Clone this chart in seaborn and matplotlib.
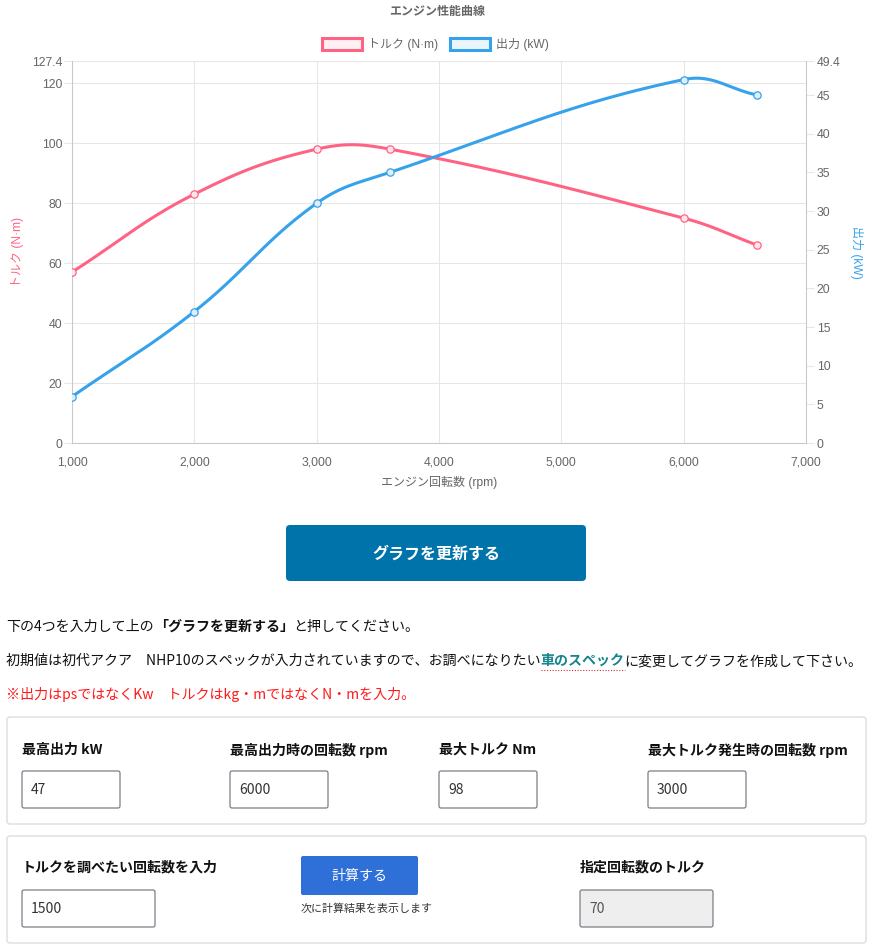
import numpy as np
import matplotlib
matplotlib.use("Agg")
import matplotlib.pyplot as plt
import seaborn as sns
from matplotlib.patches import Rectangle, FancyBboxPatch

# ---------------- data ----------------
rpm = [1000, 2000, 3000, 3600, 6000, 6600]
torque = [57, 83, 98, 98, 75, 66]
power = [6, 17, 31, 35, 47, 45]
series_names = ["トルク (N·m)", "出力 (kW)"]
chart_title = "エンジン性能曲線"
x_label = "エンジン回転数 (rpm)"
x_ticks = [1000, 2000, 3000, 4000, 5000, 6000, 7000]
left_ticks = [0, 20, 40, 60, 80, 100, 120, 127.4]
right_ticks = [0, 5, 10, 15, 20, 25, 30, 35, 40, 45, 49.4]
form_labels = ["最高出力 kW", "最高出力時の回転数 rpm", "最大トルク Nm", "最大トルク発生時の回転数 rpm"]
form_values = ["47", "6000", "98", "3000"]
calc_label = "トルクを調べたい回転数を入力"
calc_value = "1500"
calc_button = "計算する"
calc_note = "次に計算結果を表示します"
result_label = "指定回転数のトルク"
result_value = "70"
update_button = "グラフを更新する"

PINK = "#ff6384"
BLUE = "#36a2eb"
W, H = 875, 949

sns.set_theme(style="white")
plt.rcParams["font.family"] = ["Liberation Sans", "Noto Sans CJK JP"]
JP = ["Noto Sans CJK JP", "DejaVu Sans"]

fig = plt.figure(figsize=(W / 100, H / 100), dpi=100)
fig.patch.set_facecolor("white")

# ---------------- chart ----------------
L, R, T, B = 72, 806, 61, 443
ax = fig.add_axes([L / W, 1 - B / H, (R - L) / W, (B - T) / H])
ax2 = ax.twinx()
ax.set_xlim(1000, 7000)
ax.set_ylim(0, 127.4)
ax2.set_ylim(0, 49.4)

GRID = "#e6e6e6"
AXC = "#c8c8c8"
ax.set_xticks(x_ticks)
ax.set_xticklabels([f"{v:,}" for v in x_ticks])
ax.set_yticks(left_ticks)
ax.set_yticklabels([f"{v:g}" for v in left_ticks])
ax2.set_yticks(right_ticks)
ax2.set_yticklabels([f"{v:g}" for v in right_ticks])
ax.grid(True, color=GRID, lw=0.75)
ax2.grid(False)
for s in ["top", "right"]:
    ax.spines[s].set_visible(False)
for s in ["left", "bottom"]:
    ax.spines[s].set_color(AXC)
    ax.spines[s].set_linewidth(0.75)
for s in ["left", "top", "bottom"]:
    ax2.spines[s].set_visible(False)
ax2.spines["right"].set_color(AXC)
ax2.spines["right"].set_linewidth(0.75)
ax.tick_params(axis="both", length=5.8, width=0.75, color=GRID, labelcolor="#666666",
               labelsize=8.8, direction="out")
ax.tick_params(axis="y", pad=1.2)
ax.tick_params(axis="x", pad=4.2)
ax2.tick_params(axis="y", length=5.8, width=0.75, color=GRID, labelcolor="#666666",
                labelsize=8.8, pad=2.0, direction="out")


def chartjs_curve(axis, xs, ys, t=0.4, n=50):
    pts = axis.transData.transform(np.column_stack([xs, ys]).astype(float))
    m = len(pts)
    cp_prev = np.zeros_like(pts)
    cp_next = np.zeros_like(pts)
    for i in range(m):
        cur = pts[i]
        prev = pts[i - 1] if i > 0 else cur
        nxt = pts[i + 1] if i < m - 1 else cur
        d01 = np.hypot(*(cur - prev))
        d12 = np.hypot(*(nxt - cur))
        tot = d01 + d12
        s01 = d01 / tot if tot else 0
        s12 = d12 / tot if tot else 0
        cp_prev[i] = cur - t * s01 * (nxt - prev)
        cp_next[i] = cur + t * s12 * (nxt - prev)
    u = np.linspace(0, 1, n)[:, None]
    segs = []
    for i in range(m - 1):
        p0, p1, p2, p3 = pts[i], cp_next[i], cp_prev[i + 1], pts[i + 1]
        seg = (1 - u) ** 3 * p0 + 3 * (1 - u) ** 2 * u * p1 + 3 * (1 - u) * u ** 2 * p2 + u ** 3 * p3
        segs.append(seg if i == 0 else seg[1:])
    out = axis.transData.inverted().transform(np.vstack(segs))
    return out[:, 0], out[:, 1]


cx, cy = chartjs_curve(ax, rpm, torque)
ax.plot(cx, cy, color=PINK, lw=2.2, zorder=3, solid_capstyle="round")
sns.scatterplot(x=rpm, y=torque, ax=ax, s=28, color="#ffe6eb", edgecolor=PINK,
                linewidth=0.9, zorder=4, legend=False)
px_, py_ = chartjs_curve(ax2, rpm, power)
ax2.plot(px_, py_, color=BLUE, lw=2.2, zorder=3, solid_capstyle="round")
sns.scatterplot(x=rpm, y=power, ax=ax2, s=28, color="#ddeffc", edgecolor=BLUE,
                linewidth=0.9, zorder=4, legend=False)
ax.set_xlim(1000, 7000)
ax.set_ylim(0, 127.4)
ax2.set_ylim(0, 49.4)
ax.set_xlabel("")
ax.set_ylabel("")
ax2.set_ylabel("")

# ---------------- overlay (pixel coords) ----------------
ov = fig.add_axes([0, 0, 1, 1], zorder=5)
ov.set_xlim(0, W)
ov.set_ylim(H, 0)
ov.axis("off")
ov.patch.set_alpha(0)

fs = lambda px: px * 0.72

ov.text(437, 12, chart_title, ha="center", va="center", fontsize=fs(12), weight="bold", color="#666666")
# legend
ov.add_patch(Rectangle((322, 38), 40, 12, facecolor="#ffeff2", edgecolor=PINK, lw=2.2))
ov.text(368, 44.5, series_names[0], ha="left", va="center", fontsize=fs(12), color="#666666")
ov.add_patch(Rectangle((450, 38), 40, 12, facecolor="#e9f5fd", edgecolor=BLUE, lw=2.2))
ov.text(496, 44.5, series_names[1], ha="left", va="center", fontsize=fs(12), color="#666666")
# axis titles
ov.text(17, 252, series_names[0], ha="center", va="center", rotation=90, fontsize=fs(12), color=PINK)
ov.text(856, 252, series_names[1], ha="center", va="center", rotation=270, fontsize=fs(12), color=BLUE)
ov.text(439, 482, x_label, ha="center", va="center", fontsize=fs(12), color="#666666")

# update button
ov.add_patch(FancyBboxPatch((286, 525), 300, 56, boxstyle="round,pad=0,rounding_size=4",
                            facecolor="#0073aa", edgecolor="none"))
ov.text(436, 554, update_button, ha="center", va="center", fontsize=fs(16), weight="bold",
        color="white", family=JP)

renderer = fig.canvas.get_renderer()


def runs(x, y, pieces):
    for txt, kw in pieces:
        t = ov.text(x, y, txt, ha="left", va="center", fontsize=fs(14), family=JP, **kw)
        x += t.get_window_extent(renderer).width
    return x


runs(6, 627, [("下の4つを入力して上の", dict(color="#111111")),
              ("「グラフを更新する」", dict(color="#111111", weight="bold")),
              ("と押してください。", dict(color="#111111"))])

x_start = 6
t1 = ov.text(x_start, 661, "初期値は初代アクア　NHP10のスペックが入力されていますので、お調べになりたい",
             ha="left", va="center", fontsize=fs(14), family=JP, color="#111111")
w1 = t1.get_window_extent(renderer).width
t2 = ov.text(x_start + w1, 661, "車のスペック", ha="left", va="center", fontsize=fs(14), family=JP,
             color="#17858c", weight="bold")
w2 = t2.get_window_extent(renderer).width
ov.plot([x_start + w1, x_start + w1 + w2], [670, 670], color="#cc3333", lw=0.8, ls=(0, (1, 1.5)))
ov.text(x_start + w1 + w2, 661, "に変更してグラフを作成して下さい。", ha="left", va="center",
        fontsize=fs(14), family=JP, color="#111111")

ov.text(6, 694, "※出力はpsではなくKw　トルクはkg・mではなくN・mを入力。", ha="left", va="center",
        fontsize=fs(14), family=JP, color="#ff1a1a")

# form box 1
ov.add_patch(FancyBboxPatch((7, 717), 859, 107, boxstyle="round,pad=0,rounding_size=3",
                            facecolor="white", edgecolor="#dddddd", lw=1))
col_x = [22, 230, 439, 648]
for cx0, lab, val in zip(col_x, form_labels, form_values):
    ov.text(cx0, 750, lab, ha="left", va="center", fontsize=fs(14), family=JP, weight="bold", color="#111111")
    ov.add_patch(FancyBboxPatch((cx0, 771), 98, 37, boxstyle="round,pad=0,rounding_size=2",
                                facecolor="white", edgecolor="#7a7f87", lw=0.9))
    ov.text(cx0 + 9, 790, val, ha="left", va="center", fontsize=fs(14), family=JP, color="#333333")

# form box 2
ov.add_patch(FancyBboxPatch((7, 836), 859, 107, boxstyle="round,pad=0,rounding_size=3",
                            facecolor="white", edgecolor="#dddddd", lw=1))
ov.text(22, 867, calc_label, ha="left", va="center", fontsize=fs(14), family=JP, weight="bold", color="#111111")
ov.add_patch(FancyBboxPatch((22, 890), 133, 37, boxstyle="round,pad=0,rounding_size=2",
                            facecolor="white", edgecolor="#7a7f87", lw=0.9))
ov.text(31, 909, calc_value, ha="left", va="center", fontsize=fs(14), family=JP, color="#333333")
ov.add_patch(FancyBboxPatch((301, 856), 117, 39, boxstyle="round,pad=0,rounding_size=2",
                            facecolor="#2f6fd8", edgecolor="none"))
ov.text(359.5, 876, calc_button, ha="center", va="center", fontsize=fs(14), family=JP, color="white")
ov.text(301, 909, calc_note, ha="left", va="center", fontsize=fs(11), family=JP, color="#333333")
ov.text(580, 867, result_label, ha="left", va="center", fontsize=fs(14), family=JP, weight="bold", color="#111111")
ov.add_patch(FancyBboxPatch((580, 890), 133, 37, boxstyle="round,pad=0,rounding_size=2",
                            facecolor="#eeeeee", edgecolor="#7a7f87", lw=0.9))
ov.text(589, 909, result_value, ha="left", va="center", fontsize=fs(14), family=JP, color="#555555")

fig.savefig("out.png", dpi=100, facecolor="white")
